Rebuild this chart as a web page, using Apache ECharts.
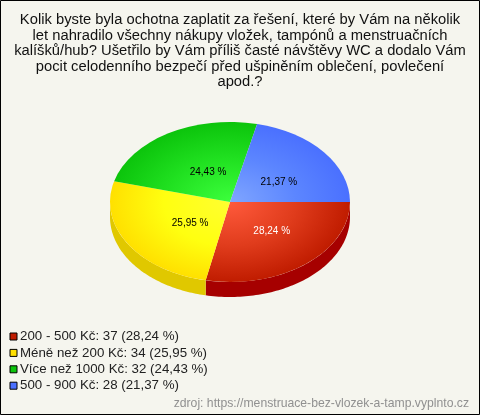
<!DOCTYPE html>
<html><head><meta charset="utf-8">
<style>html,body{margin:0;padding:0;background:#f5f5ee}#c{width:480px;height:415px}</style>
<script src="https://cdn.jsdelivr.net/npm/echarts@6/dist/echarts.min.js"></script>
</head><body><div id="c"></div>
<script>
const titleLines = [
 'Kolik byste byla ochotna zaplatit za řešení, které by Vám na několik',
 'let nahradilo všechny nákupy vložek, tampónů a menstruačních',
 'kalíšků/hub? Ušetřilo by Vám příliš časté návštěvy WC a dodalo Vám',
 'pocit celodenního bezpečí před ušpiněním oblečení, povlečení',
 'apod.?'
];
const categories = ['200 - 500 Kč','Méně než 200 Kč','Více než 1000 Kč','500 - 900 Kč'];
const counts = [37,34,32,28];
const percentLabels = ['28,24 %','25,95 %','24,43 %','21,37 %'];
const sourceText = 'zdroj: https://menstruace-bez-vlozek-a-tamp.vyplnto.cz';

const outerColors = ['#c01c00','#ffe000','#0cc40c','#4a70ff'];
const midColors   = ['#e03c1c','#ffff10','#20e020','#5c86ff'];
const innerColors = ['#ff5a3c','#ffff30','#3cff3c','#80a6ff'];
const wallColors  = ['#a60000','#e0c800','#08a008','#3050c0'];
const labelColors = ['#ffffff','#000000','#000000','#000000'];
const labelFractions = [[.55,.47],[.39,.5],[.356,.437],[.52,.4]];
const cx=230, cy=202, rx=120, ry=80, depth=15;
const total = counts.reduce((a,b)=>a+b,0);
const FONT='"Liberation Sans", Arial, sans-serif';

function sliceRender(idx){
  const before = counts.slice(0,idx).reduce((a,b)=>a+b,0);
  const a0 = before/total*2*Math.PI, a1=(before+counts[idx])/total*2*Math.PI;
  return function(){
    const children=[];
    const w0=Math.min(a0,Math.PI), w1=Math.min(a1,Math.PI);
    if(w1>w0){
      const pts=[];
      const n=80;
      for(let i=0;i<=n;i++){const t=w0+(w1-w0)*i/n;pts.push([cx+rx*Math.cos(t),cy+ry*Math.sin(t)]);}
      for(let i=n;i>=0;i--){const t=w0+(w1-w0)*i/n;pts.push([cx+rx*Math.cos(t),cy+depth+ry*Math.sin(t)]);}
      children.push({type:'polygon',z2:1,shape:{points:pts},style:{fill:wallColors[idx]}});
    }
    children.push({type:'sector',z2:2,x:cx,y:cy,scaleY:ry/rx,
      shape:{cx:0,cy:0,r0:0,r:rx,startAngle:a0,endAngle:a1,clockwise:true},
      style:{fill:{type:'radial',x:0,y:0,r:rx,global:true,
        colorStops:[{offset:0,color:innerColors[idx]},{offset:.55,color:midColors[idx]},{offset:1,color:outerColors[idx]}]}}});
    const m=(a0+a1)/2, f=labelFractions[idx];
    children.push({type:'text',z2:3,x:cx+rx*f[0]*Math.cos(m),y:cy+ry*f[1]*Math.sin(m),
      style:{text:percentLabels[idx],fill:labelColors[idx],font:'10px '+FONT,align:'center',verticalAlign:'middle'}});
    return {type:'group',children};
  };
}
const legendNames = categories.map((c,i)=>`${c}: ${counts[i]} (${percentLabels[i]})`);
const chart = echarts.init(document.getElementById('c'),null,{renderer:'canvas'});
chart.setOption({
  animation:false,
  backgroundColor:'#f5f5ee',
  legend:{orient:'vertical',left:9.5,top:330,itemWidth:7,itemHeight:7,itemGap:3.4,icon:'rect',
    selectedMode:false,padding:0,
    textStyle:{fontFamily:FONT,fontSize:13.3,color:'#222',padding:[0,0,0,-2],lineHeight:12},
    data:legendNames.map((n,i)=>({name:n,itemStyle:{color:outerColors[i],borderColor:'#000',borderWidth:1}}))},
  graphic:[
    {type:'rect',shape:{x:0.5,y:0.5,width:479,height:414},style:{fill:'none',stroke:'#000',lineWidth:1},z:10},
    ...titleLines.map((t,i)=>({type:'text',x:240,y:20+i*15.6,
      style:{text:t,font:'14.75px '+FONT,fill:'#111',align:'center',verticalAlign:'middle'}})),
    {type:'text',x:469,y:404,style:{text:sourceText,font:'12.2px '+FONT,fill:'#909090',align:'right',verticalAlign:'middle'}}
  ],
  series:categories.map((c,i)=>({type:'custom',name:legendNames[i],coordinateSystem:'none',silent:true,
    color:outerColors[i],data:[counts[i]],renderItem:sliceRender(i)}))
});
</script></body></html>
